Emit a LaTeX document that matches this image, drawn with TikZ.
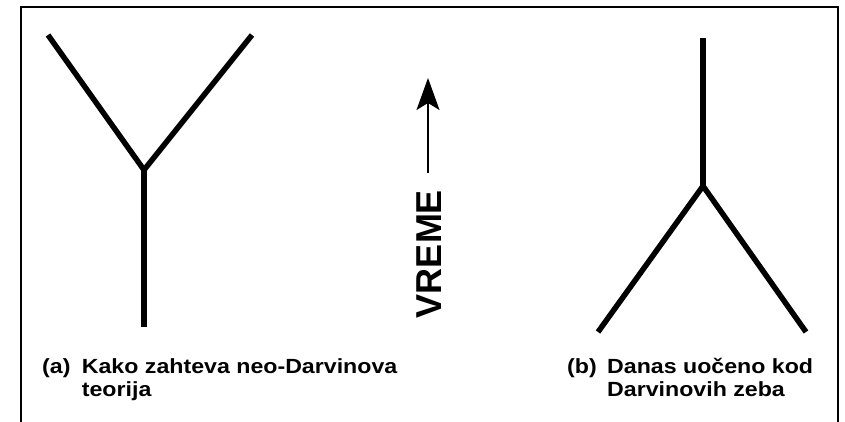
\documentclass[tikz,border=0pt]{standalone}
\usepackage{fontspec}
\setmainfont{Liberation Sans}
\newfontfamily\capfont[FakeStretch=1.13]{Liberation Sans}
\usetikzlibrary{arrows.meta}
\tikzstyle{frame} = [line width=2.4pt]
\tikzstyle{branch} = [line width=5.5pt, line join=miter]
\tikzstyle{arrow} = [line width=1.6pt,-{Stealth[length=32pt,width=23pt,inset=7pt]}]
\tikzstyle{caption} = [anchor=base west, inner sep=0pt, font=\capfont\bfseries\fontsize{20.5}{23.4}\selectfont]
\tikzstyle{timelabel} = [rotate=90, inner sep=0pt, font=\bfseries\fontsize{36}{36}\selectfont]

\begin{document}
\begin{tikzpicture}[x=1pt,y=-1pt]
	\useasboundingbox (0,0) rectangle (845,422);
	%外框
	\draw [frame] (20.7,422) -- (20.7,7) -- (838,7) -- (838,422);
	
	%(a) 分叉点
	\coordinate (aleft) at (48,35);
	\coordinate (aright) at (252,35);
	\coordinate (asplit) at (144,170);
	\coordinate (aroot) at (144,327);
	
	%(b) 分叉点
	\coordinate (btop) at (703,38);
	\coordinate (bsplit) at (703,186);
	\coordinate (bleft) at (598,332);
	\coordinate (bright) at (806,332);
	
	%时间箭头
	\coordinate (tbase) at (428,173);
	\coordinate (ttip) at (428,78);
	\node (vreme) [timelabel] at (429.5,254) {VREME};
	
	%说明文字
	\node (capa) [caption] at (42,373) {\begin{tabular}[t]{@{}l@{}l@{}}\makebox[39.7pt][l]{(a)}&Kako zahteva neo-Darvinova\\&teorija\end{tabular}};
	\node (capb) [caption] at (567,373) {\begin{tabular}[t]{@{}l@{}l@{}}\makebox[40pt][l]{(b)}&Danas uočeno kod\\&Darvinovih zeba\end{tabular}};
	
	%连接
	\draw [branch] (aleft) -- (asplit) -- (aright);
	\draw [branch] (asplit) -- (aroot);
	\draw [branch] (bleft) -- (bsplit) -- (bright);
	\draw [branch] (bsplit) -- (btop);
	\draw [arrow] (tbase) -- (ttip);
\end{tikzpicture}
\end{document}
